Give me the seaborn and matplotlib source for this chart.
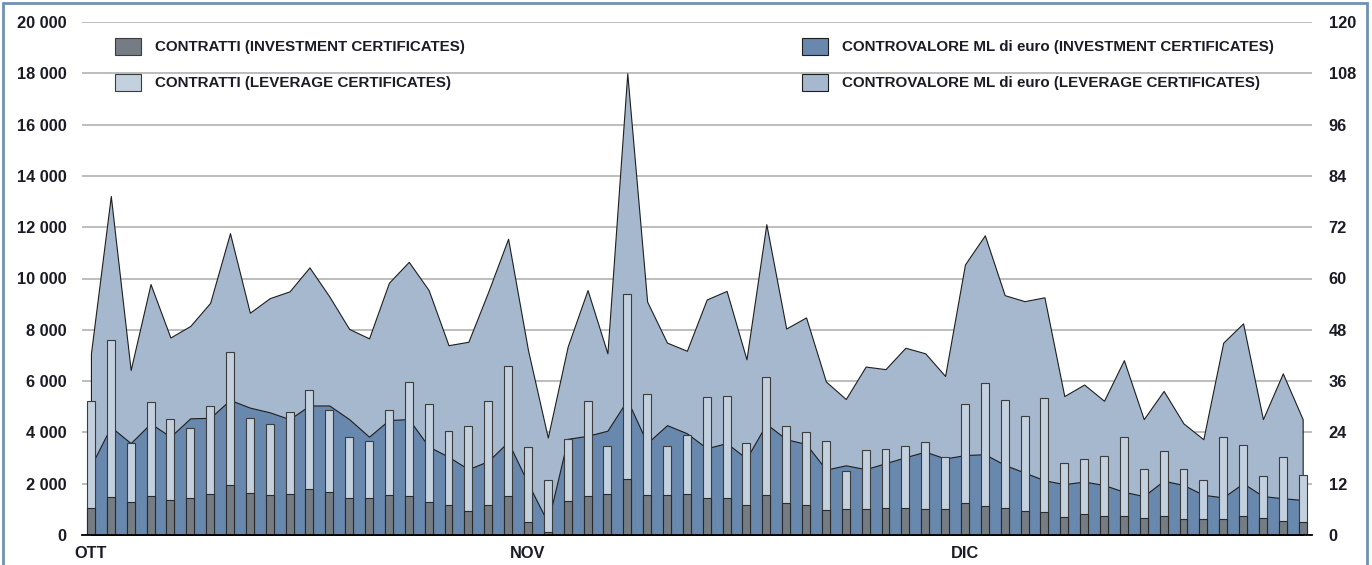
import numpy as np
import pandas as pd
import matplotlib
matplotlib.use("Agg")
import matplotlib.pyplot as plt
from matplotlib.patches import Patch, Rectangle
import seaborn as sns

# %%
# Daily data, Oct-Dec (62 trading days)
months = ["OTT", "NOV", "DIC"]
month_start = [0, 22, 44]

# number of contracts (left axis)
contr_invest = [1040, 1470, 1290, 1520, 1370, 1430, 1600, 1950, 1620, 1570,
                1600, 1780, 1660, 1460, 1430, 1570, 1510, 1290, 1170, 940,
                1170, 1510, 510, 120, 1310, 1520, 1610, 2180, 1570, 1550,
                1600, 1430, 1430, 1160, 1550, 1250, 1160, 980, 1000, 1000,
                1040, 1040, 1000, 1010, 1250, 1120, 1040, 920, 880, 700,
                810, 730, 730, 650, 740, 620, 640, 610, 730, 660, 560, 510]
contr_leverage = [4170, 6120, 2310, 3650, 3160, 2750, 3420, 5200, 2960, 2740,
                  3210, 3890, 3210, 2350, 2250, 3300, 4450, 3810, 2870, 3300,
                  4050, 5070, 2910, 2020, 2440, 3690, 1870, 7200, 3910, 1920,
                  2280, 3960, 3990, 2420, 4600, 2990, 2850, 2680, 1490, 2310,
                  2310, 2420, 2640, 2050, 3850, 4800, 4210, 3700, 4480, 2090,
                  2160, 2350, 3080, 1910, 2520, 1940, 1520, 3220, 2790, 1650,
                  2480, 1830]

# traded value, million euro (right axis)
ctv_invest = [16.2, 25.3, 21.5, 26.1, 23.0, 27.3, 27.4, 31.6, 29.8, 28.7,
              27.1, 30.3, 30.3, 27.1, 23.0, 26.9, 27.1, 20.7, 18.3, 15.4,
              17.3, 21.8, 12.1, 2.9, 22.5, 23.2, 24.4, 31.6, 21.5, 25.7,
              23.8, 20.3, 21.5, 17.9, 26.0, 22.4, 21.3, 15.3, 16.3, 15.4,
              16.8, 18.2, 19.5, 17.9, 18.7, 18.9, 16.4, 14.6, 12.8, 11.9,
              12.5, 11.7, 10.1, 9.1, 12.7, 11.7, 9.4, 8.8, 12.1, 9.1, 8.6, 8.2]
ctv_leverage = [26.3, 54.0, 17.1, 32.6, 23.2, 21.6, 26.9, 39.0, 22.2, 26.7,
                29.9, 32.3, 25.5, 21.1, 23.0, 32.1, 36.8, 36.6, 26.1, 29.8,
                39.6, 47.5, 31.2, 19.9, 21.6, 34.1, 18.1, 76.4, 33.1, 19.3,
                19.3, 34.8, 35.6, 23.2, 46.7, 25.9, 29.6, 20.6, 15.5, 24.0,
                22.0, 25.6, 23.0, 19.3, 44.6, 51.2, 39.7, 40.1, 42.8, 20.6,
                22.7, 19.7, 30.8, 18.0, 21.0, 14.4, 13.0, 36.2, 37.4, 18.0,
                29.2, 18.9]

df = pd.DataFrame({
    "day": np.arange(len(contr_invest)),
    "contr_inv": contr_invest,
    "contr_lev": contr_leverage,
    "ctv_inv": ctv_invest,
    "ctv_lev": ctv_leverage,
})
df["contr_tot"] = df["contr_inv"] + df["contr_lev"]
df["ctv_tot"] = df["ctv_inv"] + df["ctv_lev"]

# %%
col_area_lev = "#a6b8cd"
col_area_inv = "#6888ad"
col_bar_inv = "#767c84"
col_bar_lev = "#c3d0de"
txt_col = "#1b1b26"

sns.set_theme(style="white")
plt.rcParams["font.family"] = ["Liberation Sans", "DejaVu Sans"]
plt.rcParams["font.weight"] = "bold"

fig = plt.figure(figsize=(13.72, 5.65), dpi=100)
ax = fig.add_axes([82 / 1372, 30 / 565, 1230 / 1372, 513 / 565])
ax2 = ax.twinx()

# areas on the right axis (drawn below the bars)
ax2.fill_between(df["day"], 0, df["ctv_tot"], color=col_area_lev,
                 edgecolor="#1e1e1e", linewidth=0.8, zorder=2)
ax2.fill_between(df["day"], 0, df["ctv_inv"], color=col_area_inv,
                 edgecolor="#1e1e1e", linewidth=0.8, zorder=3)
ax2.set_ylim(0, 120)
ax2.set_yticks(np.arange(0, 121, 12))
ax2.grid(axis="y", color="#ababab", linewidth=1.1)
ax2.set_axisbelow(True)

# stacked bars on the left axis
sns.barplot(x=df["day"], y=df["contr_tot"], ax=ax, color=col_bar_lev,
            saturation=1, width=0.4, edgecolor="#3c3c3c", linewidth=0.8,
            errorbar=None)
sns.barplot(x=df["day"], y=df["contr_inv"], ax=ax, color=col_bar_inv,
            saturation=1, width=0.4, edgecolor="#2a2a2a", linewidth=0.8,
            errorbar=None)
ax.set_zorder(ax2.get_zorder() + 1)
ax.patch.set_visible(False)

ax.set_xlim(-0.45, len(df) - 0.53)
ax.set_ylim(0, 20000)
ax.set_yticks(np.arange(0, 20001, 2000))
ax.set_yticklabels([f"{v:,}".replace(",", " ") for v in range(0, 20001, 2000)])
ax.set_xticks(month_start)
ax.set_xticklabels(months)
ax.set_xlabel("")
ax.set_ylabel("")
ax2.set_ylabel("")

for a in (ax, ax2):
    for s in ("top", "left", "right", "bottom"):
        a.spines[s].set_visible(False)
ax.spines["bottom"].set_visible(True)
ax.spines["bottom"].set_color("black")
ax.spines["bottom"].set_linewidth(1.3)

ax.tick_params(axis="y", length=0, pad=11, labelsize=11.8, labelcolor=txt_col)
ax.tick_params(axis="x", length=0, pad=8, labelsize=11.8, labelcolor=txt_col)
ax2.tick_params(axis="y", length=0, pad=12, labelsize=11.8, labelcolor=txt_col)

# legends
leg_kw = dict(frameon=False, fontsize=10.9, handlelength=1.72, handleheight=1.32,
              handletextpad=0.92, labelspacing=1.27, borderpad=0,
              borderaxespad=0, bbox_transform=fig.transFigure, loc="upper left")
h_left = [Patch(facecolor=col_bar_inv, edgecolor="#3c3c3c", linewidth=0.8),
          Patch(facecolor=col_bar_lev, edgecolor="#3c3c3c", linewidth=0.8)]
leg1 = ax.legend(h_left, ["CONTRATTI (INVESTMENT CERTIFICATES)",
                          "CONTRATTI (LEVERAGE CERTIFICATES)"],
                 bbox_to_anchor=(115 / 1372, 1 - 38 / 565), **leg_kw)
for t in leg1.get_texts():
    t.set_color(txt_col)
ax.add_artist(leg1)
h_right = [Patch(facecolor=col_area_inv, edgecolor="#1e1e1e", linewidth=0.8),
           Patch(facecolor=col_area_lev, edgecolor="#1e1e1e", linewidth=0.8)]
leg2 = ax.legend(h_right, ["CONTROVALORE ML di euro (INVESTMENT CERTIFICATES)",
                           "CONTROVALORE ML di euro (LEVERAGE CERTIFICATES)"],
                 bbox_to_anchor=(802 / 1372, 1 - 38 / 565), **leg_kw)
for t in leg2.get_texts():
    t.set_color(txt_col)

# outer frame
fig.patches.append(Rectangle((3 / 1372, -0.05), 1364 / 1372, 1.05 - 3 / 565,
                             transform=fig.transFigure, fill=False,
                             edgecolor="#7090b4", linewidth=2))

fig.savefig("out.png", dpi=100)
